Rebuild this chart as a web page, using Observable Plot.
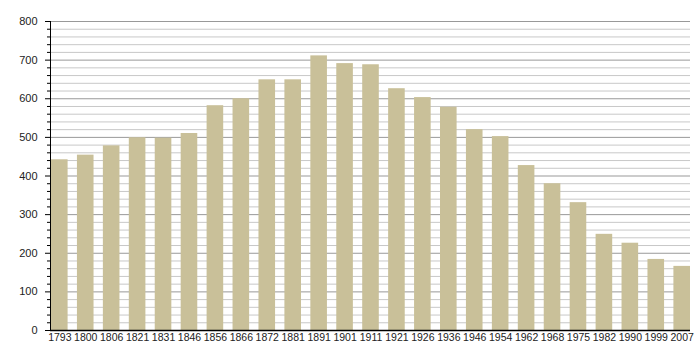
<!DOCTYPE html>
<html>
<head>
<meta charset="utf-8">
<script src="https://cdn.jsdelivr.net/npm/d3@7"></script>
<script src="https://cdn.jsdelivr.net/npm/@observablehq/plot@0.6"></script>
<style>
  html, body { margin: 0; padding: 0; background: #fff; }
  #chart svg { display: block; }
</style>
</head>
<body>
<div id="chart"></div>
<script>
const years = ["1793","1800","1806","1821","1831","1846","1856","1866","1872","1881","1891","1901","1911","1921","1926","1936","1946","1954","1962","1968","1975","1982","1990","1999","2007"];
const population = [442,454,478,499,498,510,582,600,649,649,711,691,688,626,603,578,520,502,427,380,331,249,226,184,166];
const majorTicks = [0,100,200,300,400,500,600,700,800];
const minorTicks = d3.range(0, 801, 20).filter(v => v % 100 !== 0);

const data = years.map((y, i) => ({year: y, pop: population[i]}));

const chart = Plot.plot({
  width: 700,
  height: 360,
  marginLeft: 50,
  marginRight: 10,
  marginTop: 21,
  marginBottom: 30,
  style: {fontFamily: "'Liberation Sans', Arial, sans-serif", fontSize: "10px", color: "#222", background: "#fff"},
  x: {domain: years, range: [51, 690], paddingInner: 0.36, paddingOuter: 0, round: false, label: null},
  y: {domain: [0, 800], label: null},
  marks: [
    Plot.ruleY(minorTicks, {stroke: "#c8c8c8", strokeWidth: 1}),
    Plot.ruleY(majorTicks, {stroke: "#999", strokeWidth: 1}),
    Plot.barY(data, {x: "year", y: "pop", fill: "#c9c099"}),
    Plot.axisY({ticks: minorTicks, tickSize: 3, tickFormat: () => "", stroke: "#000"}),
    Plot.axisY({ticks: majorTicks, tickSize: 5, tickPadding: 8, stroke: "#000", fill: "#222", fontSize: 11}),
    Plot.axisX({tickSize: 0, tickPadding: 3, fill: "#222", fontSize: 10.5}),
    Plot.frame({anchor: "left", stroke: "#000"}),
    Plot.ruleY([0], {stroke: "#000", strokeWidth: 1.5})
  ]
});
document.getElementById("chart").appendChild(chart);
</script>
</body>
</html>
